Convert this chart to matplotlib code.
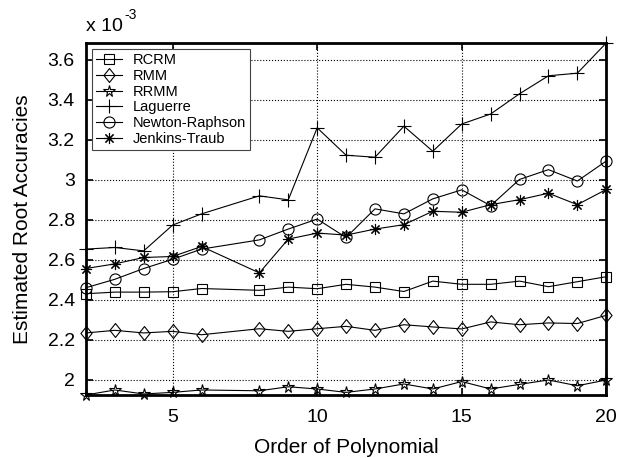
import matplotlib.pyplot as plt
import numpy as np
from matplotlib.path import Path
from matplotlib.ticker import FuncFormatter

plt.rcParams['font.family'] = ['Liberation Sans', 'DejaVu Sans']

# polynomial orders (order 7 was not run)
order = [2, 3, 4, 5, 6, 8, 9, 10, 11, 12, 13, 14, 15, 16, 17, 18, 19, 20]

# estimated root accuracies, in units of 1e-3
rcrm = [2.431, 2.439, 2.439, 2.441, 2.457, 2.448, 2.464, 2.456, 2.478, 2.464,
        2.442, 2.494, 2.478, 2.478, 2.494, 2.466, 2.491, 2.516]
rmm = [2.235, 2.248, 2.235, 2.243, 2.226, 2.256, 2.243, 2.256, 2.268, 2.248,
       2.276, 2.265, 2.255, 2.290, 2.276, 2.285, 2.282, 2.323]
rrmm = [1.925, 1.950, 1.930, 1.938, 1.950, 1.946, 1.966, 1.955, 1.938, 1.955,
        1.980, 1.955, 1.992, 1.955, 1.978, 2.000, 1.971, 2.000]
laguerre = [2.654, 2.662, 2.645, 2.774, 2.830, 2.920, 2.900, 3.260, 3.123, 3.113,
            3.268, 3.143, 3.279, 3.329, 3.430, 3.520, 3.533, 3.684]
newton = [2.461, 2.503, 2.557, 2.603, 2.654, 2.700, 2.754, 2.804, 2.712, 2.855,
          2.830, 2.905, 2.950, 2.871, 3.002, 3.051, 2.994, 3.094]
jenkins = [2.557, 2.580, 2.612, 2.617, 2.667, 2.535, 2.704, 2.734, 2.724, 2.754,
           2.776, 2.843, 2.838, 2.876, 2.901, 2.933, 2.876, 2.952]

names = ['RCRM', 'RMM', 'RRMM', 'Laguerre', 'Newton-Raphson', 'Jenkins-Traub']

diamond = Path([(0, 1), (0.8, 0), (0, -1), (-0.8, 0), (0, 1)],
               [Path.MOVETO, Path.LINETO, Path.LINETO, Path.LINETO, Path.CLOSEPOLY])
styles = [('s', 7), (diamond, 10), ('*', 8.5), ('+', 10), ('o', 8), ((8, 2, 0), 8)]

fig = plt.figure(figsize=(6.18, 4.58), dpi=100)
ax = fig.add_axes([0.139, 0.1376, 0.842, 0.7686])

for vals, name, (mk, ms) in zip([rcrm, rmm, rrmm, laguerre, newton, jenkins], names, styles):
    ax.plot(order, vals, color='black', lw=0.8, marker=mk, markersize=ms,
            markerfacecolor='none', markeredgecolor='black', markeredgewidth=0.8,
            label=name, clip_on=False, zorder=3)

allv = np.concatenate([rcrm, rmm, rrmm, laguerre, newton, jenkins])
ax.set_xlim(2, 20)
ax.set_ylim(allv.min(), allv.max())
ax.set_xticks([5, 10, 15, 20])
ax.set_yticks(np.arange(2.0, 3.61, 0.2))
ax.yaxis.set_major_formatter(FuncFormatter(lambda v, p: '%g' % round(v, 1)))

ax.grid(True, color='black', linestyle=':', linewidth=0.8)
ax.tick_params(direction='in', length=5, width=1.2, top=True, right=True,
               labelsize=14, pad=8)
ax.tick_params(axis='x', pad=10)
for s in ax.spines.values():
    s.set_linewidth(2)

ax.set_xlabel('Order of Polynomial', fontsize=15, labelpad=9)
ax.set_ylabel('Estimated Root Accuracies', fontsize=15, labelpad=11)

fig.text(86 / 618, 1 - 31 / 458, 'x 10', fontsize=14, va='baseline')
fig.text(124 / 618, 1 - 19 / 458, '-3', fontsize=10, va='baseline')

leg = ax.legend(loc='upper left', fontsize=10.5, fancybox=False, framealpha=1,
                edgecolor='#444444', borderaxespad=0.4, borderpad=0.3,
                labelspacing=0.12, handlelength=1.8, handletextpad=0.7)
leg.get_frame().set_linewidth(0.8)
leg.set_zorder(5)

fig.savefig('out.png', dpi=100)
